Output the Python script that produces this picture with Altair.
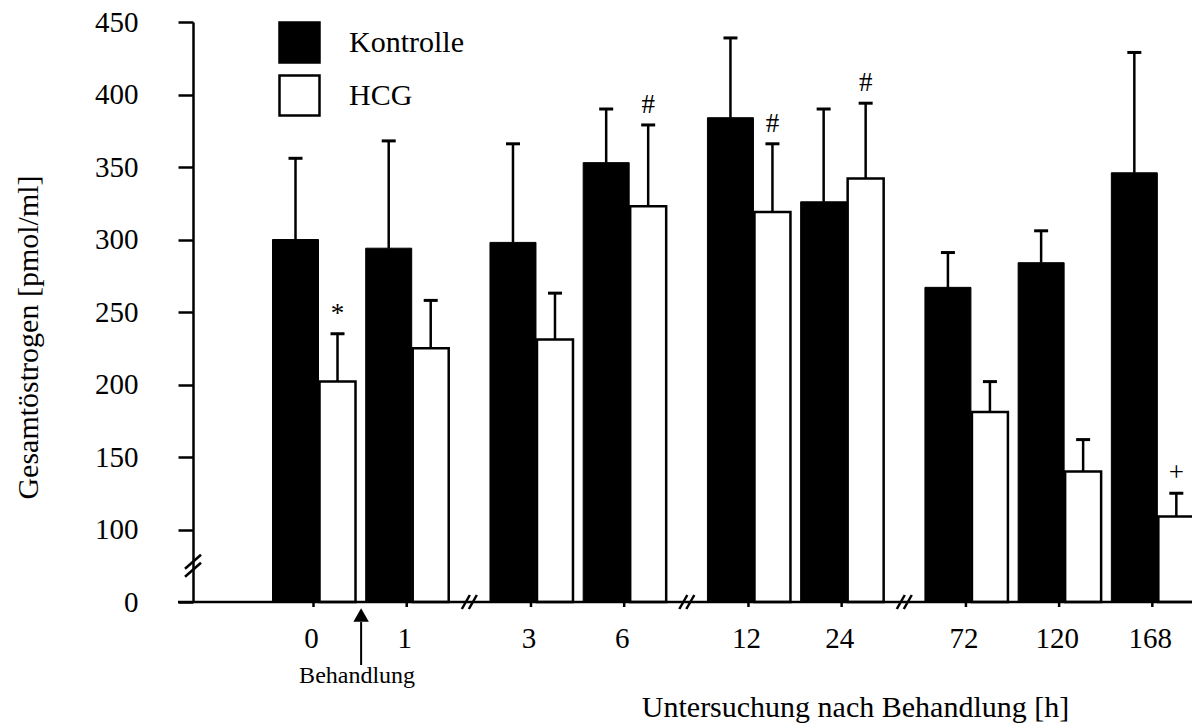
import altair as alt
import pandas as pd

# ---------------- data ----------------
times = ["0", "1", "3", "6", "12", "24", "72", "120", "168"]
kontrolle = [300, 294, 298, 353, 384, 326, 267, 284, 346]
kontrolle_err = [356, 368, 366, 390, 439, 390, 291, 306, 429]   # top of error bar
hcg = [202, 225, 231, 323, 319, 342, 181, 140, 109]
hcg_err = [235, 258, 263, 379, 366, 394, 202, 162, 125]
signif = ["*", "", "", "#", "#", "#", "", "", "+"]
breaks_after = ["1", "6", "24"]          # x-axis breaks after these times
y_ticks = [0, 100, 150, 200, 250, 300, 350, 400, 450]

FONT = "Liberation Serif"
BREAK_GAP = 1 / 3


def shown(v):
    """y-axis break: 0..100 is compressed into half a step."""
    return v if v >= 100 else 50 + v / 2


# slot positions along x (extra room at each axis break)
pos, off = [], 0.0
for i, t in enumerate(times):
    pos.append(i + off)
    if t in breaks_after:
        off += BREAK_GAP

rows = []
for i, t in enumerate(times):
    rows.append(dict(time=t, pos=pos[i], series="Kontrolle",
                     value=shown(kontrolle[i]), err=shown(kontrolle_err[i]), sig=""))
    rows.append(dict(time=t, pos=pos[i], series="HCG",
                     value=shown(hcg[i]), err=shown(hcg_err[i]), sig=signif[i]))
bars = pd.DataFrame(rows)
groups = pd.DataFrame({"time": times, "pos": pos})
brk_x = pd.DataFrame({"bx": [(pos[times.index(t)] + pos[times.index(t) + 1]) / 2
                             for t in breaks_after]})
brk_y = pd.DataFrame({"by": [shown(50)]})
arrow = pd.DataFrame({"ax": [(pos[0] + pos[1]) / 2], "label": ["Behandlung"]})
one = pd.DataFrame({"k": [0]})

W, H = 999, 580

x_scale = alt.Scale(domain=[-1.3466, 9.372], nice=False, zero=False, padding=0)
y_scale = alt.Scale(domain=[50, 450], nice=False, zero=False, padding=0)

x_axis = alt.Axis(title="Untersuchung nach Behandlung [h]", labels=False, ticks=False,
                  domain=False, grid=False, offset=0, titleFont=FONT, titleFontSize=30,
                  titleFontWeight="normal", titleColor="black", titleX=662, titleY=114,
                  titleBaseline="alphabetic", titleAlign="center")
y_axis = alt.Axis(values=[shown(v) for v in y_ticks],
                  labelExpr="datum.value == 50 ? '0' : datum.label",
                  offset=0, tickSize=15, tickWidth=2.5, tickColor="black",
                  domainColor="black", domainWidth=2.5, grid=False,
                  labelFont=FONT, labelFontSize=29, labelColor="black", labelPadding=40,
                  title="Gesamtöstrogen [pmol/ml]", titleFont=FONT, titleFontSize=30,
                  titleFontWeight="normal", titleColor="black", titleAngle=270,
                  titleX=-165, titleY=315, titleBaseline="middle", titleAlign="center")


def X(f):
    return alt.X(f, type="quantitative", scale=x_scale, axis=x_axis)


def Y(f):
    return alt.Y(f, type="quantitative", scale=y_scale, axis=y_axis)


color = alt.Color("series:N",
                  scale=alt.Scale(domain=["Kontrolle", "HCG"], range=["black", "white"]),
                  legend=alt.Legend(title=None, orient="none", legendX=85, legendY=-1,
                                    symbolType="square", symbolSize=1600,
                                    symbolStrokeColor="black", symbolStrokeWidth=2.5,
                                    labelFont=FONT, labelFontSize=30, labelColor="black",
                                    labelOffset=28, rowPadding=2))

base = alt.Chart(bars)
k_only = "datum.series == 'Kontrolle'"
h_only = "datum.series == 'HCG'"
K_OFF, H_OFF = -23, 19

white_bars = base.transform_filter(h_only).mark_bar(
    width=36, xOffset=H_OFF, stroke="black", strokeWidth=2.5, opacity=1
).encode(x=X("pos"), y=Y("value"), y2=alt.datum(50), color=color)

black_bars = base.transform_filter(k_only).mark_bar(
    width=46, xOffset=K_OFF, stroke="black", strokeWidth=1, opacity=1
).encode(x=X("pos"), y=Y("value"), y2=alt.datum(50), color=color)

layers = [white_bars, black_bars]
for flt, off in ((k_only, K_OFF), (h_only, H_OFF)):
    layers.append(base.transform_filter(flt).mark_rule(
        color="black", strokeWidth=2.5, xOffset=off
    ).encode(x=X("pos"), y=Y("value"), y2=alt.Y2("err:Q")))
    layers.append(base.transform_filter(flt).mark_rule(
        color="black", strokeWidth=3, xOffset=off - 7, x2Offset=off + 7
    ).encode(x=X("pos"), x2=alt.X2("pos:Q"), y=Y("err")))

sig_text = base.transform_filter("datum.sig != ''").mark_text(
    font=FONT, fontSize=27, color="black", baseline="alphabetic", xOffset=H_OFF, dy=-12
).encode(x=X("pos"), y=Y("err"), text="sig:N")
layers.append(sig_text)

# x axis line, ticks, labels
layers.append(alt.Chart(one).mark_rule(color="black", strokeWidth=2.5).encode(
    x=alt.value(-15), x2=alt.value(W), y=alt.value(H)))
layers.append(alt.Chart(groups).mark_rule(color="black", strokeWidth=2.5, xOffset=-5).encode(
    x=X("pos"), y=alt.value(H), y2=alt.value(H + 5)))
layers.append(alt.Chart(groups).mark_text(
    font=FONT, fontSize=29, color="black", baseline="alphabetic", xOffset=-7
).encode(x=X("pos"), y=alt.value(H + 46), text="time:N"))

# axis break marks
for dx in (-4, 3):
    layers.append(alt.Chart(brk_x).mark_rule(
        color="black", strokeWidth=2.5, xOffset=dx - 8, x2Offset=dx, yOffset=7, y2Offset=-7
    ).encode(x=X("bx"), x2=alt.X2("bx:Q"), y=alt.value(H), y2=alt.value(H)))
for dy in (-4, 4):
    layers.append(alt.Chart(brk_y).mark_rule(
        color="black", strokeWidth=2.5, xOffset=-8, x2Offset=8, yOffset=dy + 7, y2Offset=dy - 7
    ).encode(x=alt.value(0), x2=alt.value(0), y=Y("by"), y2=alt.Y2("by:Q")))

# "Behandlung" arrow
layers.append(alt.Chart(arrow).mark_rule(color="black", strokeWidth=2, xOffset=-4).encode(
    x=X("ax"), y=alt.value(H + 20), y2=alt.value(H + 63)))
layers.append(alt.Chart(arrow).mark_point(
    shape="triangle-up", filled=True, size=240, color="black", opacity=1, xOffset=-4
).encode(x=X("ax"), y=alt.value(H + 13)))
layers.append(alt.Chart(arrow).mark_text(
    font=FONT, fontSize=24, color="black", baseline="alphabetic", xOffset=-8
).encode(x=X("ax"), y=alt.value(H + 81), text="label:N"))

chart = alt.layer(*layers).properties(
    width=W, height=H,
    autosize=alt.AutoSizeParams(type="none"),
    padding={"left": 193, "top": 22, "right": 0, "bottom": 124},
    background="white",
).configure_view(stroke=None)

chart.save("out.html", embed_options={"renderer": "svg", "actions": False})
